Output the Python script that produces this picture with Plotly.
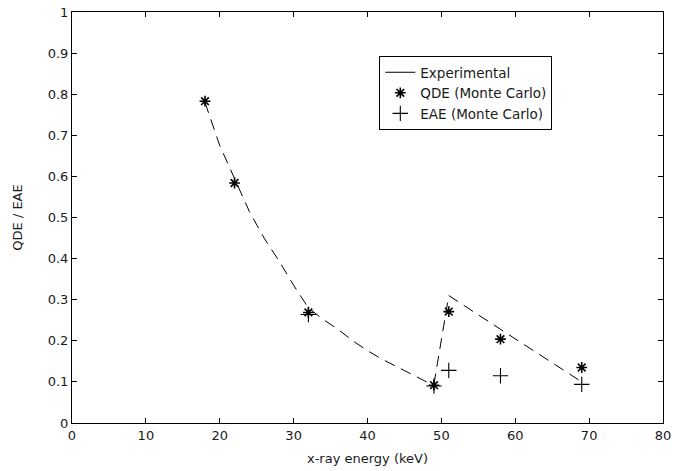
import plotly.graph_objects as go

# Experimental curve
exp_energy = [18, 20, 22, 24, 26, 28, 30, 32, 34, 36, 38, 40, 42, 44, 46, 48, 49, 51, 58, 69]
exp_value = [0.78, 0.675, 0.595, 0.515, 0.45, 0.395, 0.335, 0.28, 0.252, 0.228, 0.2, 0.176,
             0.155, 0.136, 0.117, 0.10, 0.095, 0.31, 0.228, 0.10]

# QDE (Monte Carlo)
qde_energy = [18, 22, 32, 49, 51, 58, 69]
qde_value = [0.783, 0.584, 0.269, 0.092, 0.271, 0.204, 0.135]

# EAE (Monte Carlo)
eae_energy = [32, 49, 51, 58, 69]
eae_value = [0.264, 0.09, 0.128, 0.115, 0.094]

x_ticks = [0, 10, 20, 30, 40, 50, 60, 70, 80]
y_ticks = [0, 0.1, 0.2, 0.3, 0.4, 0.5, 0.6, 0.7, 0.8, 0.9, 1]
y_tick_text = ["0", "0.1", "0.2", "0.3", "0.4", "0.5", "0.6", "0.7", "0.8", "0.9", "1"]

FONT = "DejaVu Sans"
TXT = "#1a1a1a"

fig = go.Figure()
fig.add_trace(go.Scatter(x=exp_energy, y=exp_value, mode="lines",
                         line=dict(color="black", width=1, dash="11px,7px"),
                         showlegend=False, hoverinfo="skip"))
fig.add_trace(go.Scatter(x=[None], y=[None], mode="lines", name="Experimental",
                         line=dict(color="black", width=1)))
fig.add_trace(go.Scatter(x=qde_energy, y=qde_value, mode="markers", name="QDE (Monte Carlo)",
                         marker=dict(symbol="asterisk-open", size=9, color="black",
                                     line=dict(color="black", width=1.6))))
fig.add_trace(go.Scatter(x=eae_energy, y=eae_value, mode="markers", name="EAE (Monte Carlo)",
                         marker=dict(symbol="cross-thin-open", size=11, color="black",
                                     line=dict(color="black", width=1.1))))

axis_common = dict(showgrid=False, zeroline=False, showline=True, linecolor="black",
                   linewidth=1, ticks="inside", ticklen=5, tickcolor="black",
                   mirror="ticks", automargin=False,
                   tickfont=dict(family=FONT, size=13, color=TXT))

fig.update_xaxes(range=[0, 80], tickvals=x_ticks, ticktext=[str(v) for v in x_ticks],
                 title=dict(text="x-ray energy (keV)", standoff=12,
                            font=dict(family=FONT, size=13, color=TXT)),
                 **axis_common)
fig.update_yaxes(range=[0, 1], tickvals=y_ticks, ticktext=y_tick_text,
                 title=dict(text="QDE / EAE", standoff=22,
                            font=dict(family=FONT, size=13, color=TXT)),
                 **axis_common)

fig.update_layout(
    width=683, height=471,
    margin=dict(l=72, r=20, t=12, b=48),
    plot_bgcolor="white", paper_bgcolor="white",
    font=dict(family=FONT, size=13, color=TXT),
    legend=dict(x=0.52, y=0.893, xanchor="left", yanchor="top",
                bgcolor="white", bordercolor="black", borderwidth=1,
                font=dict(family=FONT, size=13.5, color=TXT),
                tracegroupgap=0, itemwidth=30),
)

fig.write_html("out.html")
